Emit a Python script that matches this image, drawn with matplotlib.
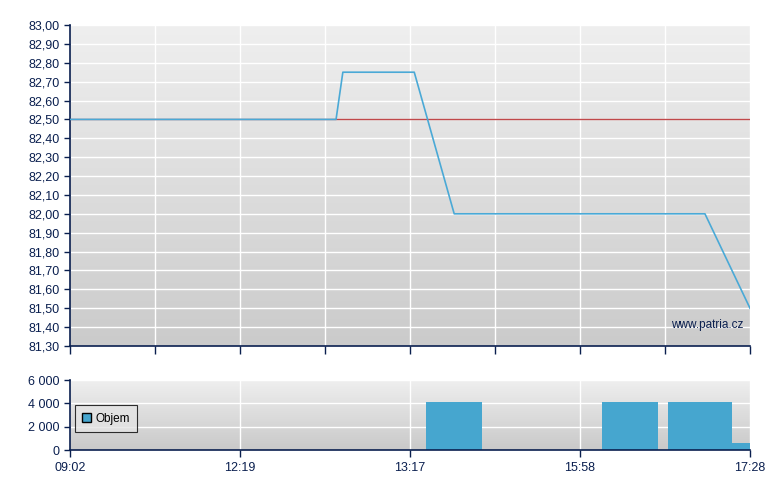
import numpy as np
import matplotlib
matplotlib.use("Agg")
import matplotlib.pyplot as plt
from matplotlib.patches import Patch

plt.rcParams['font.family'] = ['Liberation Sans', 'DejaVu Sans']

# x positions are in "slot" units: 0..8, labelled every second slot
tick_labels = ["09:02", "12:19", "13:17", "15:58", "17:28"]
tick_slots = [0, 2, 4, 6, 8]

# price line
price_x = [0.0, 3.13, 3.21, 4.05, 4.52, 7.47, 8.0]
price_y = [82.50, 82.50, 82.75, 82.75, 82.00, 82.00, 81.50]
prev_close = 82.50

# volume bars (start, end, volume)
vol_start = [4.19, 6.26, 7.04, 7.79]
vol_end = [4.85, 6.92, 7.79, 8.0]
vol_val = [4100, 4100, 4100, 600]

navy = "#0a1f4f"
line_blue = "#4aa9d6"
bar_blue = "#46a6cf"


def gradient_bg(ax, top="#efefef", bottom="#c9c9c9"):
    c1 = np.array(matplotlib.colors.to_rgb(top))
    c2 = np.array(matplotlib.colors.to_rgb(bottom))
    t = np.linspace(0, 1, 256)[:, None]
    img = c1 * (1 - t) + c2 * t
    img = img[:, None, :]
    ax.imshow(img, extent=[0, 1, 0, 1], transform=ax.transAxes,
              aspect="auto", zorder=0)


def style_axes(ax):
    for s in ("top", "right"):
        ax.spines[s].set_visible(False)
    for s in ("left", "bottom"):
        ax.spines[s].set_color(navy)
        ax.spines[s].set_linewidth(1.2)
    ax.tick_params(colors=navy, labelcolor=navy, labelsize=9, width=1, length=4)
    ax.tick_params(axis="x", length=5)


fig = plt.figure(figsize=(7.8, 4.9), dpi=100)
ax = fig.add_axes([70 / 780, 144 / 490, 680 / 780, 321 / 490])
axv = fig.add_axes([70 / 780, 40 / 490, 680 / 780, 70 / 490])

# main price panel
gradient_bg(ax, "#efefef", "#cbcbcb")
ax.set_xlim(0, 8)
ax.set_ylim(81.30, 83.00)
yt = np.round(np.arange(81.30, 83.001, 0.10), 2)
ax.set_yticks(yt)
ax.set_yticklabels([f"{v:.2f}".replace(".", ",") for v in yt])
ax.set_xticks(range(9))
ax.set_xticklabels([])
for v in yt:
    ax.axhline(v, color="white", lw=1, zorder=1)
for i in range(1, 9):
    ax.axvline(i, color="white", lw=1, zorder=1)
ax.axhline(prev_close, color="#c0484a", lw=1, zorder=2)
ax.plot(price_x, price_y, color=line_blue, lw=1.2, zorder=3)
ax.text(0.99, 0.065, "www.patria.cz", transform=ax.transAxes, ha="right",
        va="center", color=navy, fontsize=8.5, zorder=4)
style_axes(ax)
ax.tick_params(axis="x", length=6)

# volume panel
gradient_bg(axv, "#efefef", "#c9c9c9")
axv.set_xlim(0, 8)
axv.set_ylim(0, 6000)
axv.set_yticks([0, 2000, 4000, 6000])
axv.set_yticklabels(["0", "2 000", "4 000", "6 000"])
axv.set_xticks(tick_slots)
axv.set_xticklabels(tick_labels)
for v in [2000, 4000, 6000]:
    axv.axhline(v, color="white", lw=1, zorder=1)
for i in tick_slots[1:]:
    axv.axvline(i, color="white", lw=1, zorder=1)
widths = [e - s for s, e in zip(vol_start, vol_end)]
axv.bar(vol_start, vol_val, width=widths, align="edge", color=bar_blue,
        edgecolor="none", zorder=2)
style_axes(axv)
leg = axv.legend(handles=[Patch(facecolor=bar_blue, edgecolor="black", label="Objem")],
                 loc="center left", bbox_to_anchor=(0.0, 0.45), fontsize=8.5,
                 frameon=True, fancybox=False, handlelength=0.8, handleheight=0.8,
                 handletextpad=0.35, borderpad=0.6, borderaxespad=0.4)
leg.get_frame().set_edgecolor("black")
leg.get_frame().set_facecolor("#e4e4e4")
leg.get_frame().set_linewidth(0.8)

fig.savefig("out.png", dpi=100)
